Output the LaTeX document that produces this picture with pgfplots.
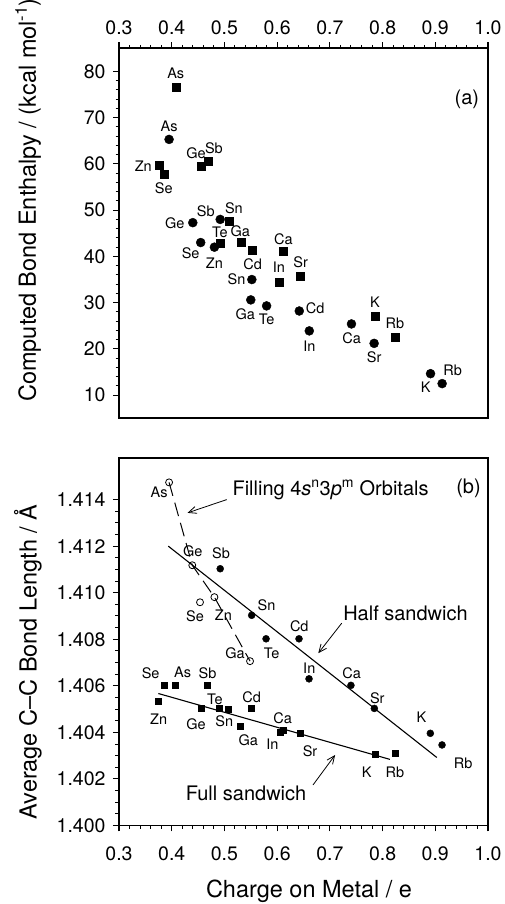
\documentclass[border=0pt]{standalone}
\usepackage{fontspec}
\setmainfont{TeX Gyre Heros}
\usepackage{pgfplots}
\pgfplotsset{compat=1.18}
\usetikzlibrary{arrows.meta}

\begin{document}
\begin{tikzpicture}
\useasboundingbox (0,0) rectangle (504pt,904pt);
\tikzset{
  lab/.style={font=\fontsize{14.5}{16}\selectfont, inner sep=0pt},
  ann/.style={font=\fontsize{20}{23}\selectfont, inner sep=0pt},
  arr/.style={-{Straight Barb[length=8pt,width=7pt]}, line width=0.8pt},
}
\pgfplotsset{
  common/.style={
    scale only axis, width=369pt,
    xmin=0.3, xmax=1.0,
    xtick={0.3,0.4,0.5,0.6,0.7,0.8,0.9,1.0},
    minor x tick num=4,
    tick align=outside,
    major tick length=6pt, minor tick length=3.5pt,
    every major tick/.append style={black, line width=1.1pt},
    every minor tick/.append style={black, line width=1.0pt},
    axis line style={line width=1.8pt},
    ytick pos=left, yticklabel pos=left,
    yticklabel shift=4pt,
    /pgf/number format/assume math mode=true,
    tick label style={font=\fontsize{19.5}{22}\selectfont},
    xticklabel style={/pgf/number format/.cd, fixed, fixed zerofill, precision=1},
    clip=false,
    label style={font=\fontsize{23.5}{27}\selectfont},
  },
}
% ---------------- top panel (a) ----------------
\begin{axis}[common, at={(119pt,485.7pt)}, anchor=south west, height=370pt,
  ymin=5, ymax=85, ytick={10,20,30,40,50,60,70,80}, minor y tick num=4,
  xtick pos=right, xticklabel pos=right, xticklabel shift=4pt,
  ylabel={Computed Bond Enthalpy / (kcal mol\textsuperscript{-1})},
  ylabel style={at={(axis description cs:-0.2466,0.59)}, anchor=center},
]
\addplot[only marks, mark=square*, mark size=4pt, black] coordinates {
(0.4076,76.5) (0.376,59.7) (0.385,57.7) (0.4556,59.4) (0.470,60.5)
(0.5087,47.6) (0.492,42.9) (0.531,43.1) (0.5536,41.3) (0.604,34.5)
(0.6118,41.1) (0.643,35.8) (0.786,27.0) (0.824,22.6)};
\addplot[only marks, mark=*, mark size=4.5pt, black] coordinates {
(0.395,65.3) (0.440,47.3) (0.492,48.0) (0.455,43.0) (0.481,42.0)
(0.552,35.0) (0.550,30.6) (0.580,29.3) (0.642,28.2) (0.661,23.9)
(0.741,25.4) (0.784,21.2) (0.891,14.65) (0.913,12.5)};
% square labels
\node[lab] at (axis cs:0.4076,79.6) {As};
\node[lab] at (axis cs:0.346,59.6) {Zn};
\node[lab] at (axis cs:0.385,54.7) {Se};
\node[lab] at (axis cs:0.446,62.4) {Ge};
\node[lab] at (axis cs:0.480,63.4) {Sb};
\node[lab] at (axis cs:0.518,50.4) {Sn};
\node[lab] at (axis cs:0.4916,45.2) {Te};
\node[lab] at (axis cs:0.530,45.4) {Ga};
\node[lab] at (axis cs:0.5536,38.4) {Cd};
\node[lab] at (axis cs:0.6118,43.8) {Ca};
\node[lab] at (axis cs:0.6035,37.6) {In};
\node[lab] at (axis cs:0.6447,38.8) {Sr};
\node[lab] at (axis cs:0.7857,30.1) {K};
\node[lab] at (axis cs:0.8236,25.6) {Rb};
% circle labels
\node[lab] at (axis cs:0.395,68.2) {As};
\node[lab] at (axis cs:0.406,47.2) {Ge};
\node[lab] at (axis cs:0.4645,49.85) {Sb};
\node[lab] at (axis cs:0.436,40.65) {Se};
\node[lab] at (axis cs:0.481,38.6) {Zn};
\node[lab] at (axis cs:0.523,35.0) {Sn};
\node[lab] at (axis cs:0.5396,27.6) {Ga};
\node[lab] at (axis cs:0.580,26.45) {Te};
\node[lab] at (axis cs:0.672,28.8) {Cd};
\node[lab] at (axis cs:0.661,20.65) {In};
\node[lab] at (axis cs:0.7415,22.3) {Ca};
\node[lab] at (axis cs:0.784,18.2) {Sr};
\node[lab] at (axis cs:0.882,11.7) {K};
\node[lab] at (axis cs:0.933,15.4) {Rb};
\node[ann] at (axis cs:0.960,73.9) {(a)};
\end{axis}
% ---------------- bottom panel (b) ----------------
\begin{axis}[common, at={(119pt,78.5pt)}, anchor=south west, height=367.8pt,
  ymin=1.400, ymax=1.4158,
  ytick={1.400,1.402,1.404,1.406,1.408,1.410,1.412,1.414}, minor y tick num=3,
  yticklabel style={/pgf/number format/.cd, fixed, fixed zerofill, precision=3},
  xtick pos=left, xticklabel pos=left, xticklabel shift=12pt,
  xlabel={Charge on Metal / e},
  xlabel style={at={(axis description cs:0.515,-0.1795)}, anchor=center},
  ylabel={Average C\textendash C Bond Length / Å},
  ylabel style={at={(axis description cs:-0.2466,0.445)}, anchor=center},
]
% fitted lines
\addplot[black, line width=1.1pt] coordinates {(0.3935,1.4120) (0.903,1.40292)};
\addplot[black, line width=1.1pt] coordinates {(0.3747,1.40567) (0.814,1.40284)};
\addplot[black, line width=1.0pt, dash pattern=on 14pt off 7pt] coordinates {
(0.395,1.41474) (0.439,1.41118) (0.481,1.40981) (0.5486,1.40706)};
% data
\addplot[only marks, mark=square*, mark size=3pt, black] coordinates {
(0.3848,1.40602) (0.4068,1.40602) (0.468,1.40602) (0.3753,1.40532)
(0.455,1.40503) (0.491,1.40503) (0.508,1.40499) (0.5517,1.40503)
(0.530,1.40426) (0.6054,1.40401) (0.6106,1.40409) (0.6434,1.40395)
(0.7857,1.40306) (0.824,1.40309)};
\addplot[only marks, mark=*, mark size=3.5pt, black] coordinates {
(0.492,1.41103) (0.5517,1.40903) (0.579,1.40802) (0.6415,1.40802)
(0.6605,1.4063) (0.740,1.40602) (0.7844,1.40503) (0.8906,1.40396)
(0.9128,1.40346)};
\addplot[only marks, mark=o, mark size=3.5pt, black, mark options={fill=white, line width=0.8pt}] coordinates {
(0.395,1.41474) (0.439,1.41118) (0.4537,1.40959) (0.481,1.40981) (0.5486,1.40706)};
% labels: open circles
\node[lab] at (axis cs:0.376,1.41431) {As};
\node[lab] at (axis cs:0.4398,1.41179) {Ge};
\node[lab] at (axis cs:0.4442,1.40900) {Se};
\node[lab] at (axis cs:0.498,1.40904) {Zn};
\node[lab] at (axis cs:0.520,1.4074) {Ga};
% filled circles
\node[lab] at (axis cs:0.4935,1.41169) {Sb};
\node[lab] at (axis cs:0.580,1.40947) {Sn};
\node[lab] at (axis cs:0.5897,1.4074) {Te};
\node[lab] at (axis cs:0.642,1.40857) {Cd};
\node[lab] at (axis cs:0.661,1.40675) {In};
\node[lab] at (axis cs:0.7415,1.40656) {Ca};
\node[lab] at (axis cs:0.790,1.40546) {Sr};
\node[lab] at (axis cs:0.874,1.40467) {K};
\node[lab] at (axis cs:0.953,1.40269) {Rb};
% squares
\node[lab] at (axis cs:0.360,1.40656) {Se};
\node[lab] at (axis cs:0.4208,1.40656) {As};
\node[lab] at (axis cs:0.468,1.40656) {Sb};
\node[lab] at (axis cs:0.3753,1.40456) {Zn};
\node[lab] at (axis cs:0.446,1.40436) {Ge};
\node[lab] at (axis cs:0.482,1.40543) {Te};
\node[lab] at (axis cs:0.4998,1.40446) {Sn};
\node[lab] at (axis cs:0.5517,1.40553) {Cd};
\node[lab] at (axis cs:0.5453,1.40367) {Ga};
\node[lab] at (axis cs:0.591,1.4035) {In};
\node[lab] at (axis cs:0.6106,1.4046) {Ca};
\node[lab] at (axis cs:0.6624,1.40317) {Sr};
\node[lab] at (axis cs:0.770,1.40227) {K};
\node[lab] at (axis cs:0.8236,1.40227) {Rb};
% annotations
\node[ann, anchor=west] at (axis cs:0.515,1.41441) {Filling 4\textit{s}\textsuperscript{n}3\textit{p}\textsuperscript{m} Orbitals};
\draw[arr] (axis cs:0.5043,1.4140) -- (axis cs:0.430,1.41343);
\node[ann] at (axis cs:0.8435,1.40911) {Half sandwich};
\draw[arr] (axis cs:0.7225,1.40869) -- (axis cs:0.678,1.4074);
\node[ann] at (axis cs:0.541,1.4014) {Full sandwich};
\draw[arr] (axis cs:0.668,1.40174) -- (axis cs:0.71,1.40303);
\node[ann] at (axis cs:0.963,1.41448) {(b)};
\end{axis}
\end{tikzpicture}
\end{document}
